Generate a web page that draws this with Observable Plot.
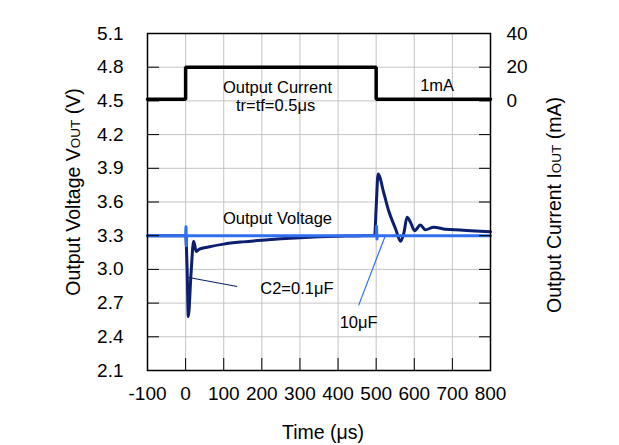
<!DOCTYPE html>
<html><head><meta charset="utf-8">
<script src="https://cdn.jsdelivr.net/npm/d3@7"></script>
<script src="https://cdn.jsdelivr.net/npm/@observablehq/plot@0.6"></script>
<style>
body{margin:0;background:#fff}
svg{font-family:"Liberation Sans",Arial,sans-serif}
</style>
</head><body><div id="chart"></div>
<script>
// ---- data ----
const xTicks = [-100, 0, 100, 200, 300, 400, 500, 600, 700, 800];
const yTicks = [2.1, 2.4, 2.7, 3.0, 3.3, 3.6, 3.9, 4.2, 4.5, 4.8, 5.1];
const currentTicks = [0, 20, 40];

// output current step (mA)
const currentTime = [-100, 0, 0, 500, 500, 800];
const currentMA   = [1, 1, 20, 20, 1, 1];

// output voltage, C2 = 10uF
const v10Time = [-100, 0, 1, 2, 3, 500, 501, 502, 503, 800];
const v10Volt = [3.30, 3.30, 3.38, 3.21, 3.30, 3.30, 3.385, 3.27, 3.30, 3.30];

// output voltage, C2 = 0.1uF
const v01Time = [-100, 0, 4, 7, 14, 21, 28, 36, 60, 100, 150, 200, 250, 300, 350, 400, 450, 496,
                 500, 505, 520, 533, 551, 564, 573, 581, 590, 601, 616, 629, 651, 682, 720, 760, 800];
const v01Volt = [3.30, 3.30, 3.00, 2.58, 2.95, 3.25, 3.16, 3.18, 3.20, 3.225, 3.245, 3.26, 3.272, 3.282, 3.29, 3.295, 3.298, 3.30,
                 3.55, 3.85, 3.68, 3.52, 3.36, 3.25, 3.33, 3.465, 3.42, 3.345, 3.395, 3.352, 3.376, 3.357, 3.35, 3.342, 3.335];

// annotations (time in us, value in V)
const noteText = ["Output Current", "tr=tf=0.5\u03bcs", "1mA", "Output Voltage", "C2=0.1\u03bcF", "10\u03bcF"];
const noteT    = [241, 236, 660, 241, 292, 454];
const noteV    = [4.613, 4.459, 4.637, 3.453, 2.83, 2.527];
// leader lines
const leadT1 = [5, 454];
const leadV1 = [2.93, 2.68];
const leadT2 = [135, 524];
const leadV2 = [2.848, 3.30];
const leadColor = ["#0c1e6e", "#2f6fef"];

// current axis maps onto voltage scale: 0 mA -> 4.5 V, 20 mA -> 4.8 V
const toV = mA => 4.5 + mA * 0.015;

const currentData = currentTime.map((t, i) => ({t, v: toV(currentMA[i])}));
const v10Data = v10Time.map((t, i) => ({t, v: v10Volt[i]}));
const v01Data = v01Time.map((t, i) => ({t, v: v01Volt[i]}));
const notes = noteText.map((s, i) => ({s, t: noteT[i], v: noteV[i]}));
const leads = leadT1.map((t, i) => ({t1: t, v1: leadV1[i], t2: leadT2[i], v2: leadV2[i], c: leadColor[i]}));

const grid = "#c4c4c4";
const plot = Plot.plot({
  width: 619, height: 445,
  marginLeft: 147, marginRight: 129, marginTop: 33, marginBottom: 75,
  style: {fontFamily: "'Liberation Sans', Arial, sans-serif", fontSize: "19px", background: "white", color: "black", overflow: "visible"},
  x: {domain: [-100, 800]},
  y: {domain: [2.1, 5.1]},
  marks: [
    Plot.gridX(xTicks, {stroke: grid, strokeOpacity: 1, strokeWidth: 1}),
    Plot.gridY(yTicks, {stroke: grid, strokeOpacity: 1, strokeWidth: 1}),
    Plot.line(currentData, {x: "t", y: "v", stroke: "black", strokeWidth: 3.5, strokeLinejoin: "miter"}),
    Plot.line(v01Data, {x: "t", y: "v", stroke: "#0c1e6e", strokeWidth: 3, curve: "monotone-x"}),
    Plot.line(v10Data, {x: "t", y: "v", stroke: "#2f6fef", strokeWidth: 3}),
    Plot.link(leads, {x1: "t1", y1: "v1", x2: "t2", y2: "v2", stroke: "c", strokeWidth: 1.2}),
    Plot.text(notes, {x: "t", y: "v", text: "s", fontSize: 16.5, fill: "black"}),
    Plot.frame({stroke: "black", strokeWidth: 1.5}),
    Plot.axisX(xTicks, {tickSize: -12, tickPadding: 28, tickFormat: d => String(d), label: null, stroke: "black"}),
    Plot.axisY(yTicks, {anchor: "left", tickSize: -12, tickPadding: 36, tickFormat: d => d.toFixed(1), label: null}),
    Plot.axisY(yTicks, {anchor: "right", tickSize: -12, tickFormat: () => "", label: null}),
    Plot.axisY(currentTicks.map(toV), {anchor: "right", tickSize: 0, tickPadding: 16, tickFormat: v => String(Math.round((v - 4.5) / 0.015)), label: null})
  ]
});
document.getElementById("chart").appendChild(plot);

// axis titles with small-caps style subscripts
const svg = d3.select(plot);
function title(x, y, rot, parts) {
  const t = svg.append("text")
    .attr("transform", `translate(${x},${y}) rotate(${rot})`)
    .attr("text-anchor", "middle")
    .attr("fill", "black")
    .style("font-size", "19.5px");
  parts.forEach(([s, small]) => {
    t.append("tspan").text(s).style("font-size", small ? "13.5px" : null);
  });
}
title(80, 192, -90, [["Output Voltage V", false], ["OUT", true], [" (V)", false]]);
title(561, 205, -90, [["Output Current I", false], ["OUT", true], [" (mA)", false]]);
title(323, 439, 0, [["Time (\u03bcs)", false]]);
</script>
</body></html>
